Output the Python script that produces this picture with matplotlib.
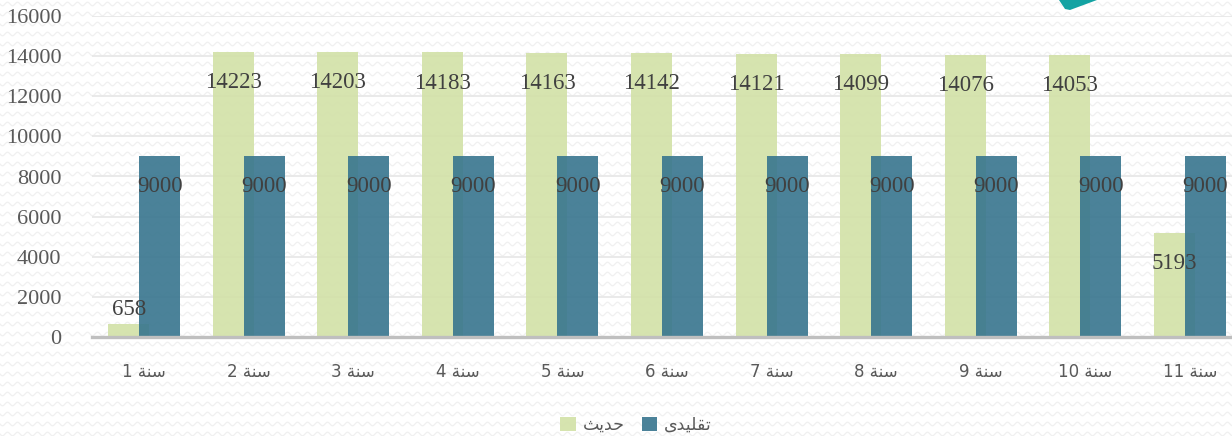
import matplotlib
matplotlib.use("Agg")
import matplotlib.pyplot as plt
import numpy as np
from matplotlib.patches import Polygon

# data
categories = ["سنة 1", "سنة 2", "سنة 3", "سنة 4", "سنة 5", "سنة 6",
              "سنة 7", "سنة 8", "سنة 9", "سنة 10", "سنة 11"]
modern = [658, 14223, 14203, 14183, 14163, 14142, 14121, 14099, 14076, 14053, 5193]
traditional = [9000, 9000, 9000, 9000, 9000, 9000, 9000, 9000, 9000, 9000, 9000]
series_names = ["حديث", "تقليدى"]
y_ticks = [0, 2000, 4000, 6000, 8000, 10000, 12000, 14000, 16000]

# minimal arabic shaping (matplotlib has no shaping / bidi)
FORMS = {
    'س': ('\uFEB1', '\uFEB2', '\uFEB3', '\uFEB4'),
    'ن': ('\uFEE5', '\uFEE6', '\uFEE7', '\uFEE8'),
    'ة': ('\uFE93', '\uFE94', None, None),
    'ح': ('\uFEA1', '\uFEA2', '\uFEA3', '\uFEA4'),
    'د': ('\uFEA9', '\uFEAA', None, None),
    'ي': ('\uFEF1', '\uFEF2', '\uFEF3', '\uFEF4'),
    'ث': ('\uFE99', '\uFE9A', '\uFE9B', '\uFE9C'),
    'ت': ('\uFE95', '\uFE96', '\uFE97', '\uFE98'),
    'ق': ('\uFED5', '\uFED6', '\uFED7', '\uFED8'),
    'ل': ('\uFEDD', '\uFEDE', '\uFEDF', '\uFEE0'),
    'ى': ('\uFEEF', '\uFEF0', None, None),
}

def shape_word(w):
    if not any(c in FORMS for c in w):
        return w
    out = []
    for i, c in enumerate(w):
        if c not in FORMS:
            out.append(c)
            continue
        f = FORMS[c]
        prev = w[i - 1] if i > 0 else None
        nxt = w[i + 1] if i < len(w) - 1 else None
        jp = prev in FORMS and FORMS[prev][2] is not None
        jn = nxt in FORMS and f[2] is not None
        if jp and jn:
            out.append(f[3])
        elif jp:
            out.append(f[1])
        elif jn:
            out.append(f[2])
        else:
            out.append(f[0])
    return "".join(reversed(out))

def shape(s):
    return " ".join(shape_word(t) for t in reversed(s.split(" ")))

green = '#d2e1a7'
teal = '#37758e'

W, H = 1232, 436
fig = plt.figure(figsize=(W / 100, H / 100), dpi=100, facecolor='white')

# faint zigzag texture in the background
bg = fig.add_axes([0, 0, 1, 1], zorder=-10)
bg.set_xlim(0, W)
bg.set_ylim(H, 0)
bg.axis('off')
xs = np.linspace(0, W, 1500)
for yy in np.arange(4, H, 10):
    bg.plot(xs, yy + 1.8 * np.sin(xs / 10 * 2 * np.pi), color='#f0f0f0', lw=0.9, zorder=1)
# teal shape cut by the top edge
bg.add_patch(Polygon([(1059, 0), (1065, 9), (1070, 10), (1097, 0)], closed=True,
                     facecolor='#14a3a3', edgecolor='none', zorder=5))

ax = fig.add_axes([92 / W, (H - 337) / H, (1242 - 92) / W, (337 - 16) / H])
ax.set_facecolor('none')

x = np.arange(len(categories))
bw = 0.392
off = 0.148
b1 = ax.bar(x - off, modern, bw, color=green, alpha=0.9, zorder=2, label=shape(series_names[0]))
b2 = ax.bar(x + off, traditional, bw, color=teal, alpha=0.9, zorder=3, label=shape(series_names[1]))

serif = 'Liberation Serif'
for bars, vals in ((b1, modern), (b2, traditional)):
    for r, v in zip(bars, vals):
        cx = r.get_x() + r.get_width() / 2
        dy = 10 if v < 2000 else -22
        ax.annotate(str(v), (cx, v), xytext=(0, dy), textcoords='offset points',
                    ha='center', va='center', fontsize=16.5, family=serif,
                    color='#404040', zorder=5)

ax.set_xlim(-0.5, len(categories) - 0.5)
ax.set_ylim(0, 16000)
ax.set_yticks(y_ticks)
ax.set_yticklabels([str(t) for t in y_ticks], family=serif, fontsize=16, color='#595959')
ax.set_xticks(x)
ax.set_xticklabels([shape(c) for c in categories], family='DejaVu Sans', fontsize=12, color='#595959')
ax.tick_params(axis='both', length=0)
ax.tick_params(axis='x', pad=19)
ax.tick_params(axis='y', pad=22)

ax.grid(axis='y', color='#e8e8e8', lw=1.3, zorder=0)
ax.set_axisbelow(True)
for s in ('top', 'right', 'left'):
    ax.spines[s].set_visible(False)
ax.spines['bottom'].set_color('#bfbfbf')
ax.spines['bottom'].set_linewidth(2.4)
ax.spines['bottom'].set_zorder(4)

leg = fig.legend(handles=[b1, b2], loc='center', bbox_to_anchor=(636 / W, 1 - 425 / H),
                 ncol=2, frameon=False, fontsize=12.5, handlelength=0.9, handleheight=0.9,
                 handletextpad=0.4, columnspacing=1.0)
for t in leg.get_texts():
    t.set_color('#595959')

fig.savefig('out.png', dpi=100)
